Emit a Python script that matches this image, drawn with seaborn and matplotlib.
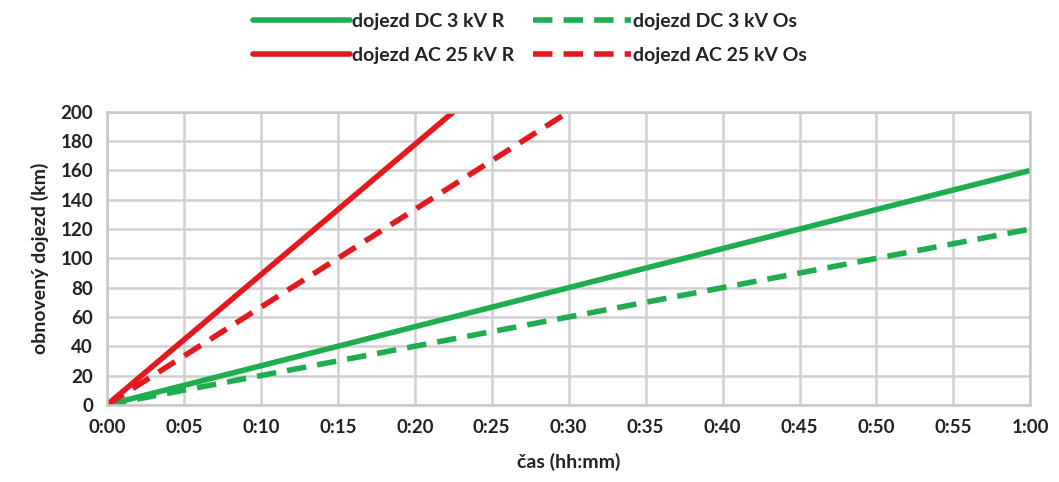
import pandas as pd
import seaborn as sns
import matplotlib.pyplot as plt

# time in minutes, restored range in km (straight lines, clipped at 200 km)
cas_min = [0, 60]
dc_r = [0, 160]
dc_os = [0, 120]
ac_r = [0, 533]
ac_os = [0, 400]

labels = ['dojezd DC 3 kV R', 'dojezd DC 3 kV Os', 'dojezd AC 25 kV R', 'dojezd AC 25 kV Os']
x_ticks = list(range(0, 61, 5))
x_labels = ['{}:{:02d}'.format(m // 60, m % 60) for m in x_ticks]

sns.set_style("whitegrid")
plt.rcParams['font.family'] = ['Lato', 'DejaVu Sans']

fig = plt.figure(figsize=(10.59, 4.82), dpi=100)
ax = fig.add_axes([0.101, 0.160, 0.872, 0.608])

green = '#1fae4f'
red = '#e3191f'
series = [(dc_r, green, '-'), (dc_os, green, '--'), (ac_r, red, '-'), (ac_os, red, '--')]
for (vals, col, ls), lab in zip(series, labels):
    df = pd.DataFrame({'cas': cas_min, 'km': vals})
    sns.lineplot(data=df, x='cas', y='km', ax=ax, color=col, linestyle=ls, linewidth=4, label=lab)

for l in ax.get_lines():
    if l.get_linestyle() == '--':
        l.set_dashes([3.5, 2])

ax.set_xlim(0, 60)
ax.set_ylim(0, 200)
ax.set_xticks(x_ticks)
ax.set_xticklabels(x_labels)
ax.set_yticks(range(0, 201, 20))
ax.grid(True, color='#d0d0d0', linewidth=1.8)
for s in ax.spines.values():
    s.set_color('#c8c8c8')
    s.set_linewidth(1.8)
ax.tick_params(axis='both', labelsize=13.5, colors='#222222', length=0, pad=10)
for t in ax.get_xticklabels() + ax.get_yticklabels():
    t.set_fontweight('bold')

ax.set_xlabel('čas (hh:mm)', fontsize=14, fontweight='bold', color='#222222', labelpad=12)
ax.set_ylabel('obnovený dojezd (km)', fontsize=14, fontweight='bold', color='#222222', labelpad=8)

# legend rows: DC on top, AC below (matplotlib fills column by column)
h, l = ax.get_legend_handles_labels()
order = [0, 2, 1, 3]
ax.legend([h[i] for i in order], [l[i] for i in order],
          loc='upper center', bbox_to_anchor=(0.5, 1.01), bbox_transform=fig.transFigure,
          ncol=2, frameon=False, handlelength=5, handletextpad=0.1, columnspacing=1.0,
          labelspacing=0.9, prop={'weight': 'bold', 'size': 14})
for t in ax.get_legend().get_texts():
    t.set_color('#222222')

plt.savefig('out.png', dpi=100)
